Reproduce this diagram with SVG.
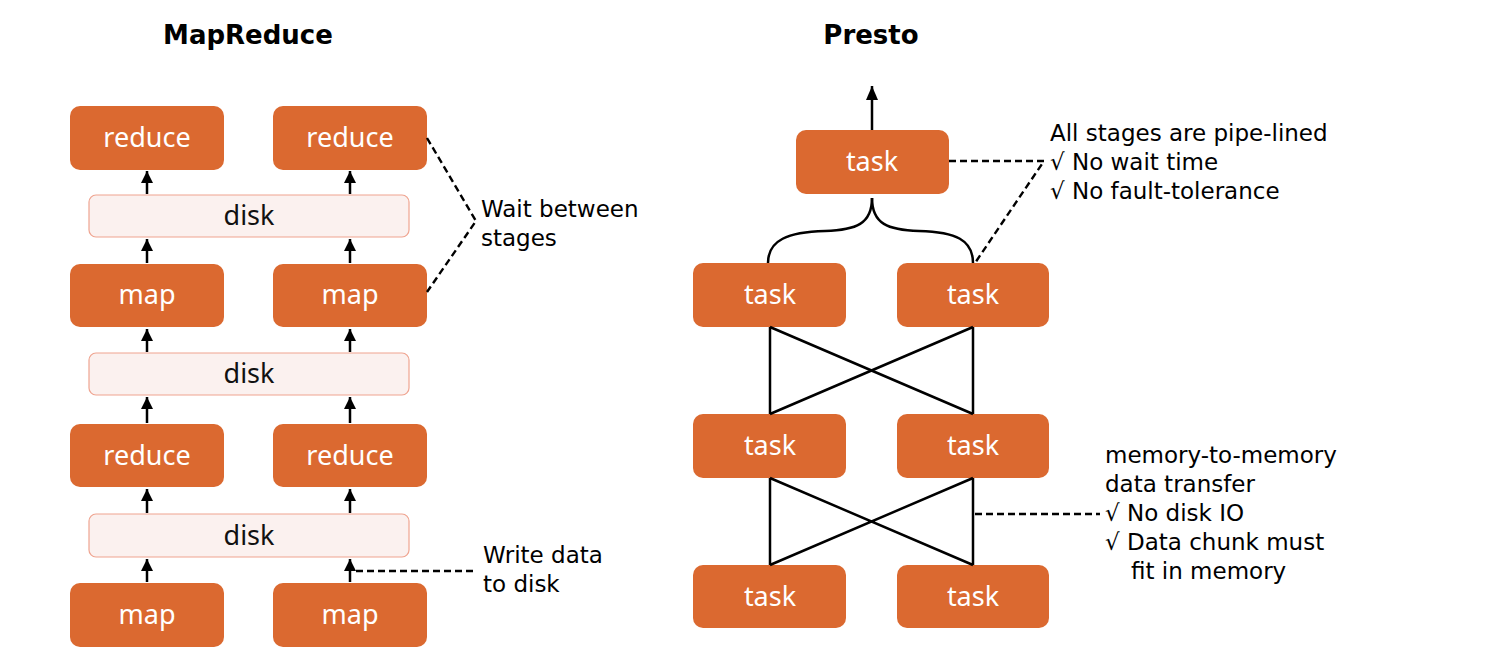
<svg xmlns="http://www.w3.org/2000/svg" width="1500" height="664" viewBox="0 0 1500 664">
<style>
.box{fill:#DB6930;}
.disk{fill:#FBF1EF;stroke:#EFA490;stroke-width:1.2;}
.bt{font-family:"Noto Sans","Open Sans",sans-serif;font-size:27px;fill:#ffffff;text-anchor:middle;}
.dt{font-family:"Noto Sans","Open Sans",sans-serif;font-size:27px;fill:#111111;text-anchor:middle;}
.title{font-family:"DejaVu Sans",sans-serif;font-size:26px;font-weight:bold;fill:#000;text-anchor:middle;}
.note{font-family:"DejaVu Sans","Noto Sans",sans-serif;font-size:23px;fill:#000;}
.ln{stroke:#000;stroke-width:2.5;fill:none;}
.dash{stroke:#000;stroke-width:2.4;fill:none;stroke-dasharray:7,4;}
</style>
<defs>
<marker id="ah2" markerUnits="userSpaceOnUse" markerWidth="14" markerHeight="16" viewBox="0 0 14 16" refX="14" refY="7" orient="auto">
<path d="M0,1 L14,7 L0,13 Z" fill="#000"/>
</marker>
<marker id="ah3" markerUnits="userSpaceOnUse" markerWidth="12" markerHeight="13" viewBox="0 0 12 13" refX="12" refY="6.5" orient="auto">
<path d="M0,0.5 L12,6.5 L0,12.5 Z" fill="#000"/>
</marker>
</defs>

<text class="title" x="248" y="44">MapReduce</text>
<text class="title" x="871" y="44">Presto</text>

<g id="mr-reduce-top-left"><rect class="box" x="70" y="106" width="154" height="64" rx="10"/><text class="bt" x="147" y="147">reduce</text></g>
<g id="mr-reduce-top-right"><rect class="box" x="273" y="106" width="154" height="64" rx="10"/><text class="bt" x="350" y="147">reduce</text></g>
<g id="mr-disk-1"><rect class="disk" x="89" y="195" width="320" height="42" rx="7"/><text class="dt" x="249" y="225">disk</text></g>
<g id="mr-map-mid-left"><rect class="box" x="70" y="264" width="154" height="63" rx="10"/><text class="bt" x="147" y="304">map</text></g>
<g id="mr-map-mid-right"><rect class="box" x="273" y="264" width="154" height="63" rx="10"/><text class="bt" x="350" y="304">map</text></g>
<g id="mr-disk-2"><rect class="disk" x="89" y="353" width="320" height="42" rx="7"/><text class="dt" x="249" y="383">disk</text></g>
<g id="mr-reduce-bot-left"><rect class="box" x="70" y="424" width="154" height="63" rx="10"/><text class="bt" x="147" y="465">reduce</text></g>
<g id="mr-reduce-bot-right"><rect class="box" x="273" y="424" width="154" height="63" rx="10"/><text class="bt" x="350" y="465">reduce</text></g>
<g id="mr-disk-3"><rect class="disk" x="89" y="514" width="320" height="43" rx="7"/><text class="dt" x="249" y="545">disk</text></g>
<g id="mr-map-bot-left"><rect class="box" x="70" y="583" width="154" height="64" rx="10"/><text class="bt" x="147" y="624">map</text></g>
<g id="mr-map-bot-right"><rect class="box" x="273" y="583" width="154" height="64" rx="10"/><text class="bt" x="350" y="624">map</text></g>

<g id="p-task-top"><rect class="box" x="796" y="130" width="153" height="64" rx="10"/><text class="bt" x="872" y="171">task</text></g>
<g id="p-task-1l"><rect class="box" x="693" y="263" width="153" height="64" rx="10"/><text class="bt" x="770" y="304">task</text></g>
<g id="p-task-1r"><rect class="box" x="897" y="263" width="152" height="64" rx="10"/><text class="bt" x="973" y="304">task</text></g>
<g id="p-task-2l"><rect class="box" x="693" y="414" width="153" height="64" rx="10"/><text class="bt" x="770" y="455">task</text></g>
<g id="p-task-2r"><rect class="box" x="897" y="414" width="152" height="64" rx="10"/><text class="bt" x="973" y="455">task</text></g>
<g id="p-task-3l"><rect class="box" x="693" y="565" width="153" height="63" rx="10"/><text class="bt" x="770" y="606">task</text></g>
<g id="p-task-3r"><rect class="box" x="897" y="565" width="152" height="63" rx="10"/><text class="bt" x="973" y="606">task</text></g>

<g id="connectors">
<line class="ln" x1="147" y1="194" x2="147" y2="171" marker-end="url(#ah3)"/>
<line class="ln" x1="350" y1="194" x2="350" y2="171" marker-end="url(#ah3)"/>
<line class="ln" x1="147" y1="263" x2="147" y2="239" marker-end="url(#ah3)"/>
<line class="ln" x1="350" y1="263" x2="350" y2="239" marker-end="url(#ah3)"/>
<line class="ln" x1="147" y1="352" x2="147" y2="329" marker-end="url(#ah3)"/>
<line class="ln" x1="350" y1="352" x2="350" y2="329" marker-end="url(#ah3)"/>
<line class="ln" x1="147" y1="423" x2="147" y2="397" marker-end="url(#ah3)"/>
<line class="ln" x1="350" y1="423" x2="350" y2="397" marker-end="url(#ah3)"/>
<line class="ln" x1="147" y1="513" x2="147" y2="489" marker-end="url(#ah3)"/>
<line class="ln" x1="350" y1="513" x2="350" y2="489" marker-end="url(#ah3)"/>
<line class="ln" x1="147" y1="582" x2="147" y2="559" marker-end="url(#ah3)"/>
<line class="ln" x1="350" y1="582" x2="350" y2="559" marker-end="url(#ah3)"/>

<path class="dash" d="M427,138 L476,221 L427,292"/>
<path class="dash" d="M356,571 L474,571"/>

<line class="ln" x1="872" y1="130" x2="872" y2="86" marker-end="url(#ah2)"/>
<path class="ln" d="M872,198 C872,224 856,230 825,231 C788,232 768,240 768,263"/>
<path class="ln" d="M872,198 C872,224 888,230 919,231 C956,232 973,240 973,263"/>

<path class="ln" d="M770,327 L770,414 M973,327 L973,414 M770,327 L973,414 M973,327 L770,414"/>
<path class="ln" d="M770,478 L770,565 M973,478 L973,565 M770,478 L973,565 M973,478 L770,565"/>

<path class="dash" d="M949,161 L1044,161 L975,263"/>
<path class="dash" d="M975,514 L1100,514"/>
</g>

<text class="note" x="481" y="217">Wait between<tspan x="481" dy="29">stages</tspan></text>
<text class="note" x="483" y="563">Write data<tspan x="483" dy="29">to disk</tspan></text>

<text class="note" x="1050" y="141">All stages are pipe-lined<tspan x="1050" dy="29">√ No wait time</tspan><tspan x="1050" dy="29">√ No fault-tolerance</tspan></text>

<text class="note" x="1105" y="463">memory-to-memory<tspan x="1105" dy="29">data transfer</tspan><tspan x="1105" dy="29">√ No disk IO</tspan><tspan x="1105" dy="29">√ Data chunk must</tspan><tspan x="1131" dy="29">fit in memory</tspan></text>
</svg>
